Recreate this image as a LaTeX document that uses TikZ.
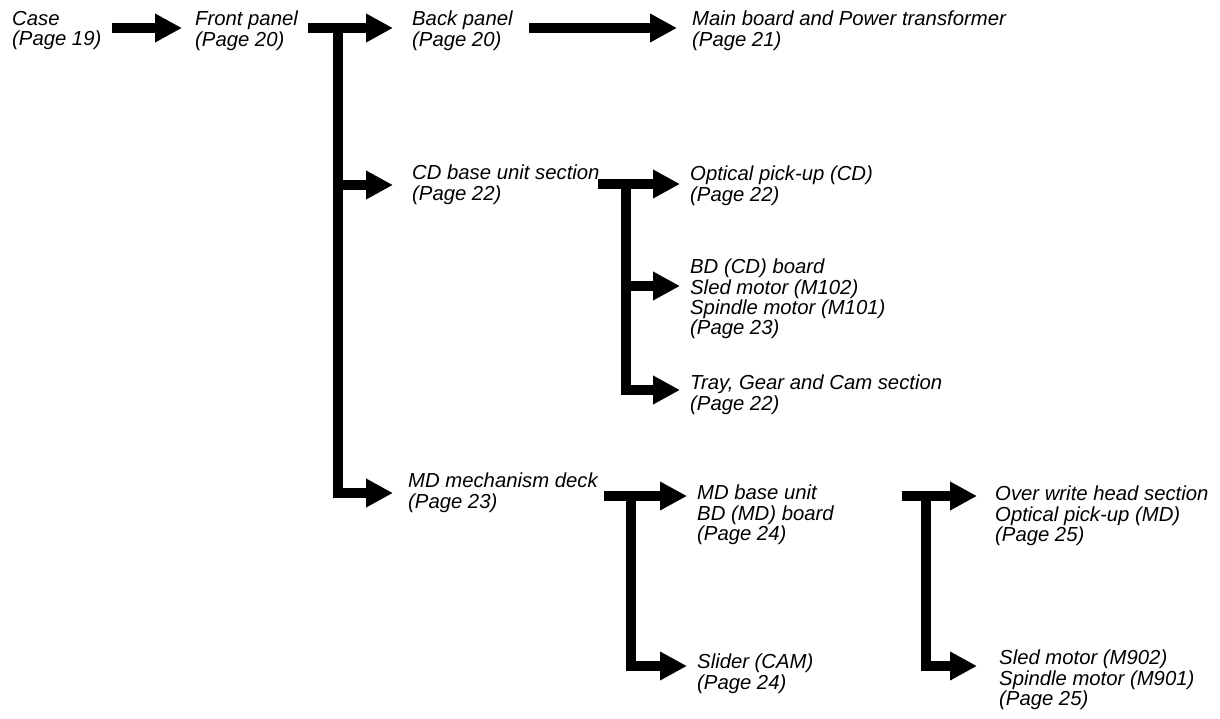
\documentclass[tikz,border=0pt]{standalone}
\usepackage{fontspec}
\setmainfont{Liberation Sans}
\usetikzlibrary{arrows.meta}
\begin{document}
\begin{tikzpicture}[x=1pt,y=-1pt,
  lbl/.style={anchor=north west, inner sep=0pt, align=left, font=\fontsize{20.3}{20.3}\selectfont\itshape},
  arr/.style={line width=9.5pt, line join=miter, -{Triangle[length=27pt,width=27pt]}}]
\useasboundingbox (0,0) rectangle (1220,718);
% text nodes
\node[lbl] (case)   at (12,11)    {Case\\(Page 19)};
\node[lbl] (front)  at (195,11)   {Front panel\\(Page 20)};
\node[lbl] (back)   at (412,11)   {Back panel\\(Page 20)};
\node[lbl] (main)   at (692,11)   {Main board and Power transformer\\(Page 21)};
\node[lbl] (cdbase) at (412,165)  {CD base unit section\\(Page 22)};
\node[lbl] (optcd)  at (690,166)  {Optical pick-up (CD)\\(Page 22)};
\node[lbl] (bdcd)   at (690,259)  {BD (CD) board\\Sled motor (M102)\\Spindle motor (M101)\\(Page 23)};
\node[lbl] (tray)   at (690,375)  {Tray, Gear and Cam section\\(Page 22)};
\node[lbl] (mdmech) at (408,473)  {MD mechanism deck\\(Page 23)};
\node[lbl] (mdbase) at (697,485)  {MD base unit\\BD (MD) board\\(Page 24)};
\node[lbl] (slider) at (697,654)  {Slider (CAM)\\(Page 24)};
\node[lbl] (owh)    at (995,486)  {Over write head section\\Optical pick-up (MD)\\(Page 25)};
\node[lbl] (sled)   at (999,650)  {Sled motor (M902)\\Spindle motor (M901)\\(Page 25)};
% connector points
\coordinate (a1s) at (112,28);  \coordinate (a1e) at (182,28);
\coordinate (a2s) at (308,28);  \coordinate (a2e) at (393,28);
\coordinate (a3s) at (529,28);  \coordinate (a3e) at (677,28);
\coordinate (tr)  at (338,28);  \coordinate (trb) at (338,493); \coordinate (mde) at (393,493);
\coordinate (cds) at (338,185); \coordinate (cde) at (393,185);
\coordinate (c1s) at (598,184); \coordinate (c1e) at (680,184);
\coordinate (cv)  at (626,184); \coordinate (cvb) at (626,390); \coordinate (c3e) at (680,390);
\coordinate (cm)  at (626,286); \coordinate (c2e) at (680,286);
\coordinate (m1s) at (604,496); \coordinate (m1e) at (687,496);
\coordinate (mv)  at (631,496); \coordinate (mvb) at (631,666); \coordinate (m2e) at (687,666);
\coordinate (o1s) at (902,496); \coordinate (o1e) at (977,496);
\coordinate (ov)  at (926,496); \coordinate (ovb) at (926,666); \coordinate (o2e) at (977,666);
% connectors
\draw[arr] (a1s) -- (a1e);
\draw[arr] (a2s) -- (a2e);
\draw[arr] (a3s) -- (a3e);
\draw[arr] (tr) -- (trb) -- (mde);
\draw[arr] (cds) -- (cde);
\draw[arr] (c1s) -- (c1e);
\draw[arr] (cv) -- (cvb) -- (c3e);
\draw[arr] (cm) -- (c2e);
\draw[arr] (m1s) -- (m1e);
\draw[arr] (mv) -- (mvb) -- (m2e);
\draw[arr] (o1s) -- (o1e);
\draw[arr] (ov) -- (ovb) -- (o2e);
\end{tikzpicture}
\end{document}
